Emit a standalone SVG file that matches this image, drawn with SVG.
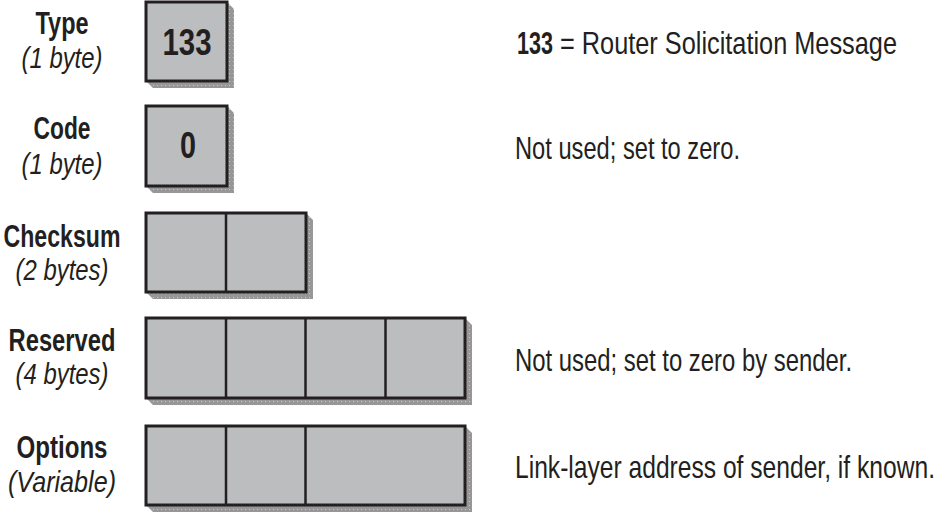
<svg xmlns="http://www.w3.org/2000/svg" width="939" height="513" viewBox="0 0 939 513">
<defs>
<pattern id="dots" width="4" height="4" patternUnits="userSpaceOnUse">
<rect width="4" height="4" fill="#979797"/>
<rect x="1" y="1" width="1" height="1" fill="#c8c8c8"/>
</pattern>
</defs>
<style>
text{font-family:"Liberation Sans",Arial,sans-serif;fill:#231f20}
.lb{font-weight:bold;font-size:31px;text-anchor:middle}
.li{font-style:italic;font-size:29px;text-anchor:middle}
.desc{font-size:32px}
.val{font-weight:bold;font-size:37px;text-anchor:middle}
.cell{fill:#bcbdbf;stroke:#231f20;stroke-width:3}
.div{stroke:#231f20;stroke-width:2.5}
.sh{fill:url(#dots)}
</style>
<rect width="939" height="513" fill="#ffffff"/>

<g id="type">
<text class="lb" x="62" y="34" textLength="53" lengthAdjust="spacingAndGlyphs">Type</text>
<text class="li" x="62" y="68" textLength="81" lengthAdjust="spacingAndGlyphs">(1 byte)</text>
<polygon class="sh" points="227,2 234,9 234,88 153,88 146,81 227,81"/>
<rect class="cell" x="146" y="2" width="81" height="79"/>
<text class="val" x="187" y="55" textLength="49" lengthAdjust="spacingAndGlyphs">133</text>
<text class="desc" font-weight="bold" transform="translate(517 54) scale(0.675 1)" textLength="53.3" lengthAdjust="spacingAndGlyphs">133</text>
<text class="desc" transform="translate(560 54) scale(0.791 1)" textLength="426" lengthAdjust="spacingAndGlyphs">= Router Solicitation Message</text>
</g>

<g id="code">
<text class="lb" x="62" y="139" textLength="57" lengthAdjust="spacingAndGlyphs">Code</text>
<text class="li" x="62" y="174" textLength="81" lengthAdjust="spacingAndGlyphs">(1 byte)</text>
<polygon class="sh" points="227,106 234,113 234,193 153,193 146,186 227,186"/>
<rect class="cell" x="146" y="106" width="81" height="80"/>
<text class="val" x="188" y="158" textLength="16" lengthAdjust="spacingAndGlyphs">0</text>
<text class="desc" transform="translate(515 159) scale(0.74 1)" textLength="304" lengthAdjust="spacingAndGlyphs">Not used; set to zero.</text>
</g>

<g id="checksum">
<text class="lb" x="62" y="247" textLength="117" lengthAdjust="spacingAndGlyphs">Checksum</text>
<text class="li" x="62" y="280" textLength="93" lengthAdjust="spacingAndGlyphs">(2 bytes)</text>
<polygon class="sh" points="306,213 313,220 313,299 153,299 146,292 306,292"/>
<rect class="cell" x="146" y="213" width="160" height="79"/>
<line class="div" x1="226" y1="213" x2="226" y2="292"/>
</g>

<g id="reserved">
<text class="lb" x="62" y="351" textLength="107" lengthAdjust="spacingAndGlyphs">Reserved</text>
<text class="li" x="62" y="384" textLength="93" lengthAdjust="spacingAndGlyphs">(4 bytes)</text>
<polygon class="sh" points="465,318 472,325 472,405 153,405 146,398 465,398"/>
<rect class="cell" x="146" y="318" width="319" height="80"/>
<line class="div" x1="226" y1="318" x2="226" y2="398"/>
<line class="div" x1="305.5" y1="318" x2="305.5" y2="398"/>
<line class="div" x1="385.5" y1="318" x2="385.5" y2="398"/>
<text class="desc" transform="translate(515 371) scale(0.743 1)" textLength="453.6" lengthAdjust="spacingAndGlyphs">Not used; set to zero by sender.</text>
</g>

<g id="options">
<text class="lb" x="62" y="458" textLength="91" lengthAdjust="spacingAndGlyphs">Options</text>
<text class="li" x="62" y="492" textLength="108" lengthAdjust="spacingAndGlyphs">(Variable)</text>
<polygon class="sh" points="465,426 472,433 472,512 153,512 146,505 465,505"/>
<rect class="cell" x="146" y="426" width="319" height="79"/>
<line class="div" x1="226" y1="426" x2="226" y2="505"/>
<line class="div" x1="305.5" y1="426" x2="305.5" y2="505"/>
<text class="desc" transform="translate(515 478) scale(0.767 1)" textLength="547.6" lengthAdjust="spacingAndGlyphs">Link-layer address of sender, if known.</text>
</g>

<g id="connectors"/>
</svg>
